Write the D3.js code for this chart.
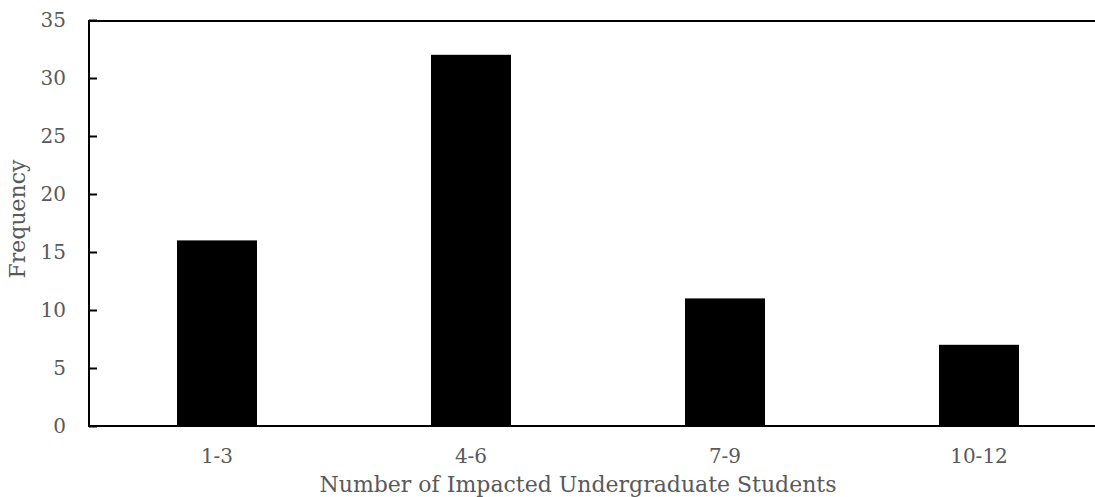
<!DOCTYPE html>
<html>
<head>
<meta charset="utf-8">
<script src="https://cdn.jsdelivr.net/npm/d3@7"></script>
<style>
  html, body { margin: 0; padding: 0; background: #fff; }
  svg { display: block; }
  text { font-family: "DejaVu Serif", "Liberation Serif", serif; fill: #595959; }
</style>
</head>
<body>
<svg id="chart" width="1095" height="497"></svg>
<script>
// Frequency of impacted undergraduate students per group size
const categories = ["1-3", "4-6", "7-9", "10-12"];
const frequency = [16, 32, 11, 7];
const yTicks = [0, 5, 10, 15, 20, 25, 30, 35];

const svg = d3.select("#chart");
const plotLeft = 90, plotRight = 1106, plotTop = 20, plotBottom = 426;

const x = d3.scaleBand().domain(categories).range([plotLeft, plotRight]).paddingInner(0.685).paddingOuter(0.3425);
const y = d3.scaleLinear().domain([0, 35]).range([plotBottom, plotTop]);

// bars
svg.append("g").selectAll("rect")
  .data(categories)
  .join("rect")
  .attr("x", d => x(d))
  .attr("width", x.bandwidth())
  .attr("y", (d, i) => y(frequency[i]))
  .attr("height", (d, i) => y(0) - y(frequency[i]))
  .attr("fill", "#000");

// left axis with inward ticks
const yAxis = svg.append("g")
  .attr("transform", `translate(${plotLeft - 1},0)`)
  .call(d3.axisRight(y).tickValues(yTicks).tickSize(8).tickFormat(""));
yAxis.select(".domain").remove();
yAxis.selectAll(".tick line").attr("stroke", "#000").attr("stroke-width", 2);

svg.append("g").selectAll("text")
  .data(yTicks)
  .join("text")
  .attr("x", 66)
  .attr("y", d => y(d))
  .attr("dy", "0.36em")
  .attr("text-anchor", "end")
  .attr("font-size", 20)
  .text(d => d);

// frame lines: left, bottom, top
svg.append("line").attr("x1", plotLeft - 1).attr("x2", plotLeft - 1).attr("y1", plotTop).attr("y2", plotBottom + 1)
  .attr("stroke", "#000").attr("stroke-width", 2);
svg.append("line").attr("x1", plotLeft - 2).attr("x2", 1095).attr("y1", plotBottom).attr("y2", plotBottom)
  .attr("stroke", "#000").attr("stroke-width", 2);
svg.append("line").attr("x1", plotLeft - 2).attr("x2", 1095).attr("y1", plotTop + 1).attr("y2", plotTop + 1)
  .attr("stroke", "#000").attr("stroke-width", 2);

// x category labels
svg.append("g").selectAll("text")
  .data(categories)
  .join("text")
  .attr("x", d => x(d) + x.bandwidth() / 2)
  .attr("y", 463)
  .attr("text-anchor", "middle")
  .attr("font-size", 20)
  .text(d => d);

// axis titles
svg.append("text")
  .attr("x", 578).attr("y", 492)
  .attr("text-anchor", "middle")
  .attr("font-size", 22)
  .text("Number of Impacted Undergraduate Students");

svg.append("text")
  .attr("transform", "translate(25,219) rotate(-90)")
  .attr("text-anchor", "middle")
  .attr("font-size", 22)
  .text("Frequency");
</script>
</body>
</html>
